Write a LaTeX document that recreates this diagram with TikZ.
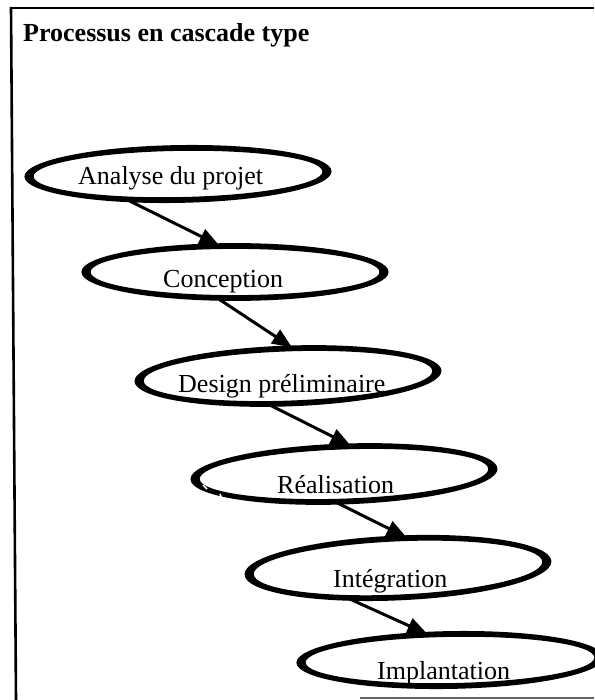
\documentclass[tikz,border=0pt]{standalone}
\usepackage{fontspec}
\setmainfont{Liberation Serif}
\usetikzlibrary{arrows.meta,shapes.geometric}

% outline of a stage: a ring that is thicker at the ends than at top and bottom
% #1 node, #2 x radius, #3 y radius, #4 tilt
\newcommand\ringfor[4]{%
  \fill[even odd rule, rotate around={#4:(#1.center)}]
    (#1.center) ellipse[x radius=#2+4.6, y radius=#3+2.9]
    (#1.center) ellipse[x radius=#2-4.6, y radius=#3-2.9];}

\begin{document}
\begin{tikzpicture}[x=1pt,y=-1pt,
  stage/.style={ellipse,draw=none,inner sep=0pt,outer sep=0pt,
    minimum width=298pt},
  label/.style={anchor=base west,inner sep=0pt,font=\fontsize{26}{30}\selectfont},
  flow/.style={line width=3pt,shorten >=1.5pt,-{Triangle[length=20pt,width=16pt]}},
  frame/.style={line width=2.6pt,black}]

\useasboundingbox (0,0) rectangle (594,700);

% frame around the figure
\draw[frame] (11,8) -- (594,8);
\draw[frame] (11,7) -- (16,700);
\draw[line width=1.5pt,black!60] (360,698) -- (594,698);

% title
\node[anchor=base west,inner sep=0pt,font=\fontsize{26}{30}\selectfont\bfseries]
  (title) at (23,42) {Processus en cascade type};

% stages of the waterfall
\node[stage,minimum height=52pt,rotate=1]   (e1) at (178,174) {};
\node[stage,minimum height=52pt]            (e2) at (235,272) {};
\node[stage,minimum height=55pt,rotate=2]   (e3) at (288,376) {};
\node[stage,minimum height=55pt,rotate=2]   (e4) at (344,474) {};
\node[stage,minimum height=59pt,rotate=2.5] (e5) at (398,568) {};
\node[stage,minimum height=52pt,rotate=1]   (e6) at (450,660) {};

\ringfor{e1}{149}{26}{1}
\ringfor{e2}{149}{26}{0}
\ringfor{e3}{149}{27.5}{2}
\ringfor{e4}{149}{27.5}{2}
\ringfor{e5}{149}{29.5}{2.5}
\ringfor{e6}{149}{26}{1}

% small gaps in the outline of the fourth stage
\draw[white,line width=1.6pt] (203,485) -- (207,489);
\draw[white,line width=1.6pt] (220,494) -- (222,499);

\node[label] (t1) at (78,185)  {Analyse du projet};
\node[label] (t2) at (163,287) {Conception};
\node[label] (t3) at (178,392) {Design préliminaire};
\node[label] (t4) at (277,493) {Réalisation};
\node[label] (t5) at (333,587) {Intégration};
\node[label] (t6) at (377,679) {Implantation};

% arrows between successive stages
\draw[flow] (e1.205) -- (e2.119);
\draw[flow] (e2.235) -- (e3.77);
\draw[flow] (e3.232) -- (e4.72);
\draw[flow] (e4.250) -- (e5.69);
\draw[flow] (e5.208) -- (e6.129);
\end{tikzpicture}
\end{document}
